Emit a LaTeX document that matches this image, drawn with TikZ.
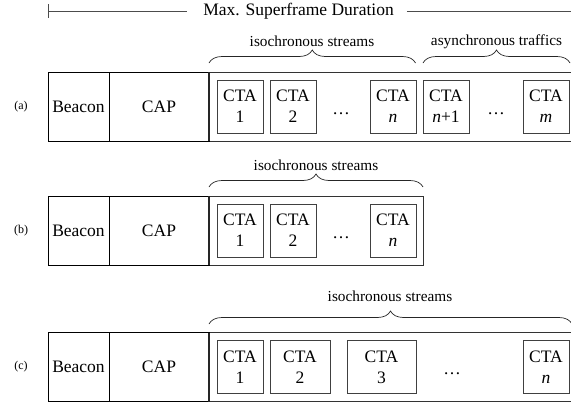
\documentclass[tikz,border=0pt]{standalone}
\usepackage{fontspec}
\setmainfont{Liberation Serif}
\usetikzlibrary{decorations.pathreplacing}
\begin{document}
\begin{tikzpicture}[x=1pt,y=-1pt,
  every node/.style={inner sep=0pt, outer sep=0pt},
  mainfont/.style={font=\fontsize{17.5}{21}\selectfont},
  cell/.style={draw=black, line width=0.8pt, minimum height=69pt, mainfont},
  region/.style={draw=black!80, line width=0.8pt, minimum height=69pt},
  cta/.style={draw=black!75, line width=0.8pt, minimum width=46pt, minimum height=53pt, align=center, mainfont},
  dotsnode/.style={mainfont, anchor=base},
  grplabel/.style={font=\fontsize{15.3}{18}\selectfont},
  rowlabel/.style={font=\fontsize{12}{14}\selectfont},
  brc/.style={draw=black!85, line width=0.7pt, decorate, decoration={brace, amplitude=13pt}},
  durline/.style={draw=black!70, line width=0.8pt},
  divider/.style={draw=black!85, line width=1.7pt}
]
\useasboundingbox (0,0) rectangle (571,405);
\clip (0,0) rectangle (571,405);

% ---- duration line ----
\node[mainfont] (title) at (298.5,11) {Max. Superframe Duration};
\coordinate (tickT) at (48,4);
\coordinate (tickB) at (48,18);
\coordinate (lineL) at (48,11);
\coordinate (lineR) at (575,11);
\draw[durline] (tickT) -- (tickB);
\draw[durline] (lineL) -- ([xshift=-16pt]title.west);
\draw[durline] ([xshift=13pt]title.east) -- (lineR);

% ---- row (a) ----
\node[rowlabel] (la) at (21,106.5) {(a)};
\node[region, minimum width=365pt, anchor=west] (regA) at (209,106.5) {};
\node[cell, minimum width=61pt] (beaconA) at (78.5,106.5) {Beacon};
\node[cell, minimum width=100pt] (capA) at (159,106.5) {CAP};
\draw[divider] (capA.north east) -- (capA.south east);
\node[cta] (a1) at (240,106.5) {CTA\\1};
\node[cta] (a2) at (293,106.5) {CTA\\2};
\node[dotsnode] (adots1) at (341,114) {\dots};
\node[cta] (an) at (393,106.5) {CTA\\\textit{n}};
\node[cta] (an1) at (446,106.5) {CTA\\\textit{n}+1};
\node[dotsnode] (adots2) at (496,114) {\dots};
\node[cta] (am) at (546,106.5) {CTA\\\textit{m}};
\coordinate (baL) at (209,63);
\coordinate (baR) at (415.5,63);
\coordinate (bbL) at (423,63);
\coordinate (bbR) at (570,63);
\draw[brc] (baL) -- (baR);
\draw[brc] (bbL) -- (bbR);
\node[grplabel] (isoA) at (312,41.5) {isochronous streams};
\node[grplabel] (asyA) at (496.5,41.5) {asynchronous traffics};

% ---- row (b) ----
\node[rowlabel] (lb) at (21,230.5) {(b)};
\node[region, minimum width=214pt, anchor=west] (regB) at (209,230.5) {};
\node[cell, minimum width=61pt] (beaconB) at (78.5,230.5) {Beacon};
\node[cell, minimum width=100pt] (capB) at (159,230.5) {CAP};
\draw[divider] (capB.north east) -- (capB.south east);
\node[cta] (b1) at (240,230.5) {CTA\\1};
\node[cta] (b2) at (293,230.5) {CTA\\2};
\node[dotsnode] (bdots) at (341,238) {\dots};
\node[cta] (bn) at (393,230.5) {CTA\\\textit{n}};
\coordinate (bcL) at (209,187);
\coordinate (bcR) at (423,187);
\draw[brc] (bcL) -- (bcR);
\node[grplabel] (isoB) at (316,165) {isochronous streams};

% ---- row (c) ----
\node[rowlabel] (lc) at (21,367) {(c)};
\node[region, minimum width=365pt, anchor=west] (regC) at (209,367) {};
\node[cell, minimum width=61pt] (beaconC) at (78.5,367) {Beacon};
\node[cell, minimum width=100pt] (capC) at (159,367) {CAP};
\draw[divider] (capC.north east) -- (capC.south east);
\node[cta] (c1) at (240,367) {CTA\\1};
\node[cta, minimum width=60pt] (c2) at (300,367) {CTA\\2};
\node[cta, minimum width=69pt] (c3) at (381.5,367) {CTA\\3};
\node[dotsnode] (cdots) at (452,374.5) {\dots};
\node[cta] (cn) at (546,367) {CTA\\\textit{n}};
\coordinate (bdL) at (209,324);
\coordinate (bdR) at (572,324);
\draw[brc] (bdL) -- (bdR);
\node[grplabel] (isoC) at (390,296) {isochronous streams};
\end{tikzpicture}
\end{document}
